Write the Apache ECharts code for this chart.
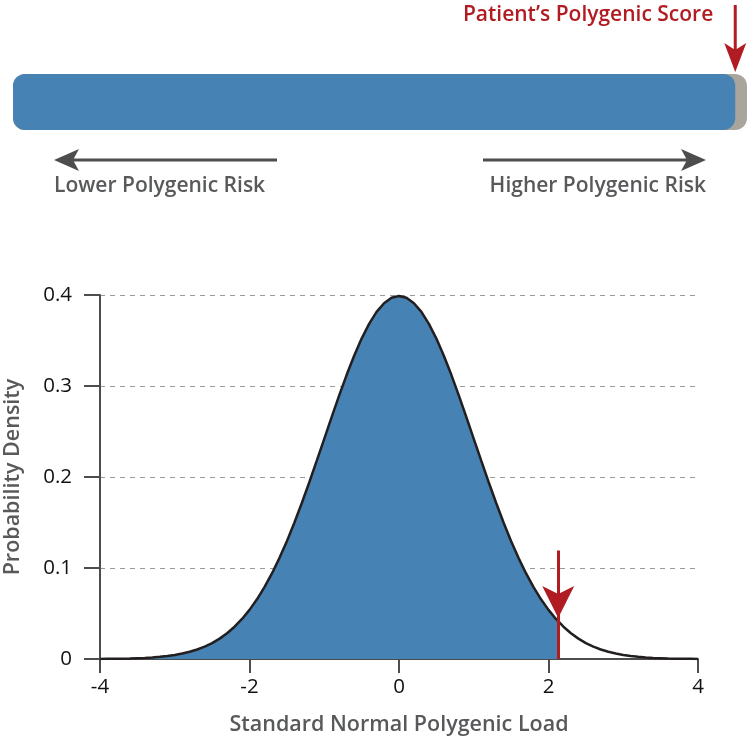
<!DOCTYPE html>
<html>
<head>
<meta charset="utf-8">
<script src="https://cdn.jsdelivr.net/npm/echarts@6/dist/echarts.min.js"></script>
<style>
  html, body { margin: 0; padding: 0; background: #fff; }
  #chart { width: 752px; height: 743px; }
</style>
</head>
<body>
<div id="chart"></div>
<script>
// polygenic load values (x) and probability density
var loadX = [-4.0,-3.9,-3.8,-3.7,-3.6,-3.5,-3.4,-3.3,-3.2,-3.1,-3.0,-2.9,-2.8,-2.7,-2.6,-2.5,-2.4,-2.3,-2.2,-2.1,
    -2.0,-1.9,-1.8,-1.7,-1.6,-1.5,-1.4,-1.3,-1.2,-1.1,-1.0,-0.9,-0.8,-0.7,-0.6,-0.5,-0.4,-0.3,-0.2,-0.1,
    0.0,0.1,0.2,0.3,0.4,0.5,0.6,0.7,0.8,0.9,1.0,1.1,1.2,1.3,1.4,1.5,1.6,1.7,1.8,1.9,
    2.0,2.1,2.2,2.3,2.4,2.5,2.6,2.7,2.8,2.9,3.0,3.1,3.2,3.3,3.4,3.5,3.6,3.7,3.8,3.9,4.0];
var density = [0.0001,0.0002,0.0003,0.0004,0.0006,0.0009,0.0012,0.0017,0.0024,0.0033,0.0044,0.0060,0.0079,0.0104,0.0136,0.0175,0.0224,0.0283,0.0355,0.0440,
    0.0540,0.0656,0.0790,0.0940,0.1109,0.1295,0.1497,0.1714,0.1942,0.2179,0.2420,0.2661,0.2897,0.3123,0.3332,0.3521,0.3683,0.3814,0.3910,0.3970,
    0.3989,0.3970,0.3910,0.3814,0.3683,0.3521,0.3332,0.3123,0.2897,0.2661,0.2420,0.2179,0.1942,0.1714,0.1497,0.1295,0.1109,0.0940,0.0790,0.0656,
    0.0540,0.0440,0.0355,0.0283,0.0224,0.0175,0.0136,0.0104,0.0079,0.0060,0.0044,0.0033,0.0024,0.0017,0.0012,0.0009,0.0006,0.0004,0.0003,0.0002,0.0001];

// patient
var patientScore = 2.13;
var patientDensity = 0.0413;
var patientPercentile = 98.4;

var xTicks = { min: -4, max: 4, interval: 2 };
var yTicks = { min: 0, max: 0.4, interval: 0.1 };

var blue = '#4682b4';
var red = '#b01c22';
var darkGrey = '#4d4d4d';
var labelGrey = '#58595b';
var font = 'Open Sans';

// build series data
var curve = [];
var shaded = [];
for (var i = 0; i < loadX.length; i++) {
    curve.push([loadX[i], density[i]]);
    if (loadX[i] < patientScore) shaded.push([loadX[i], density[i]]);
}
shaded.push([patientScore, patientDensity]);

var myChart = echarts.init(document.getElementById('chart'));

var option = {
    animation: false,
    textStyle: { fontFamily: font },
    grid: [
        { left: 100, right: 54, top: 295, bottom: 84, outerBoundsMode: 'none', containLabel: false },
        { left: 13, right: 5, top: 74, height: 56, outerBoundsMode: 'none', containLabel: false }
    ],
    xAxis: [{
        type: 'value',
        min: xTicks.min, max: xTicks.max, interval: xTicks.interval,
        name: 'Standard Normal Polygenic Load',
        nameLocation: 'middle',
        nameGap: 55,
        nameTextStyle: { color: labelGrey, fontSize: 21.5, fontWeight: 600 },
        axisLine: { onZero: false, lineStyle: { color: darkGrey, width: 2 } },
        axisTick: { length: 14, lineStyle: { color: darkGrey, width: 2 } },
        axisLabel: { color: '#111', fontSize: 20.5, margin: 18 },
        splitLine: { show: false }
    }, {
        gridIndex: 1, type: 'value', min: 0, max: 100, show: false
    }],
    yAxis: [{
        type: 'value',
        min: yTicks.min, max: yTicks.max, interval: yTicks.interval,
        name: 'Probability Density',
        nameLocation: 'middle',
        nameGap: 76,
        nameTextStyle: { color: labelGrey, fontSize: 21.5, fontWeight: 600 },
        axisLine: { show: true, onZero: false, lineStyle: { color: darkGrey, width: 2 } },
        axisTick: { show: true, length: 16, lineStyle: { color: darkGrey, width: 2 } },
        axisLabel: { color: '#111', fontSize: 20.5, margin: 28 },
        splitLine: { lineStyle: { color: '#9a9a9a', type: [5, 5], width: 1 } }
    }, {
        gridIndex: 1, type: 'category', data: ['score'], show: false
    }],
    series: [
        {
            name: 'shaded',
            type: 'line',
            data: shaded,
            symbol: 'none',
            lineStyle: { width: 0 },
            areaStyle: { color: blue, opacity: 1 },
            z: 2,
            markLine: {
                silent: true,
                symbol: 'none',
                label: { show: false },
                lineStyle: { color: red, width: 3, type: 'solid' },
                data: [
                    [{ coord: [patientScore, 0.119] }, { coord: [patientScore, 0] }]
                ]
            }
        },
        {
            name: 'curve',
            type: 'line',
            data: curve,
            symbol: 'none',
            lineStyle: { color: '#231f20', width: 2.5 },
            z: 3,
            markLine: {
                silent: true,
                symbol: ['none', 'arrow'],
                symbolSize: [24, 32],
                label: { show: false },
                lineStyle: { color: red, width: 3, type: 'solid' },
                data: [
                    [{ coord: [patientScore, 0.119] }, { coord: [patientScore, 0.045] }]
                ]
            }
        },
        {
            name: 'rest',
            type: 'bar',
            xAxisIndex: 1, yAxisIndex: 1,
            data: [100],
            barWidth: 56,
            itemStyle: { color: '#a9a59c', borderRadius: 12 },
            silent: true
        },
        {
            name: 'patient',
            type: 'bar',
            xAxisIndex: 1, yAxisIndex: 1,
            data: [patientPercentile],
            barWidth: 56,
            barGap: '-100%',
            itemStyle: { color: blue, borderRadius: 12 },
            silent: true
        }
    ]
};
myChart.setOption(option);

// annotations above the score bar
var px = myChart.convertToPixel({ xAxisIndex: 1 }, patientPercentile);
var barLeft = myChart.convertToPixel({ xAxisIndex: 1 }, 0);
var barRight = myChart.convertToPixel({ xAxisIndex: 1 }, 100);
var arrowY = 160;
var lowStart = barLeft + 41, lowEnd = barLeft + 264;
var highStart = barRight - 264, highEnd = barRight - 41;

myChart.setOption({
    graphic: [
        { type: 'line', shape: { x1: px, y1: 5, x2: px, y2: 50 }, style: { stroke: red, lineWidth: 3 } },
        { type: 'polygon', shape: { points: [[px, 72], [px - 11, 43], [px, 50], [px + 11, 43]] }, style: { fill: red } },
        { type: 'text', right: 752 - (px - 22), top: 5,
          style: { text: 'Patient\u2019s Polygenic Score', fill: red, font: '600 21px "Open Sans"' } },

        { type: 'line', shape: { x1: lowEnd, y1: arrowY, x2: lowStart + 14, y2: arrowY }, style: { stroke: darkGrey, lineWidth: 3 } },
        { type: 'polygon', shape: { points: [[lowStart, arrowY], [lowStart + 25, arrowY - 11], [lowStart + 19, arrowY], [lowStart + 25, arrowY + 11]] }, style: { fill: darkGrey } },
        { type: 'line', shape: { x1: highStart, y1: arrowY, x2: highEnd - 14, y2: arrowY }, style: { stroke: darkGrey, lineWidth: 3 } },
        { type: 'polygon', shape: { points: [[highEnd, arrowY], [highEnd - 25, arrowY - 11], [highEnd - 19, arrowY], [highEnd - 25, arrowY + 11]] }, style: { fill: darkGrey } },

        { type: 'text', left: lowStart, top: 176,
          style: { text: 'Lower Polygenic Risk', fill: labelGrey, font: '600 21px "Open Sans"' } },
        { type: 'text', right: 752 - highEnd, top: 176,
          style: { text: 'Higher Polygenic Risk', fill: labelGrey, font: '600 21px "Open Sans"' } }
    ]
});
</script>
</body>
</html>
